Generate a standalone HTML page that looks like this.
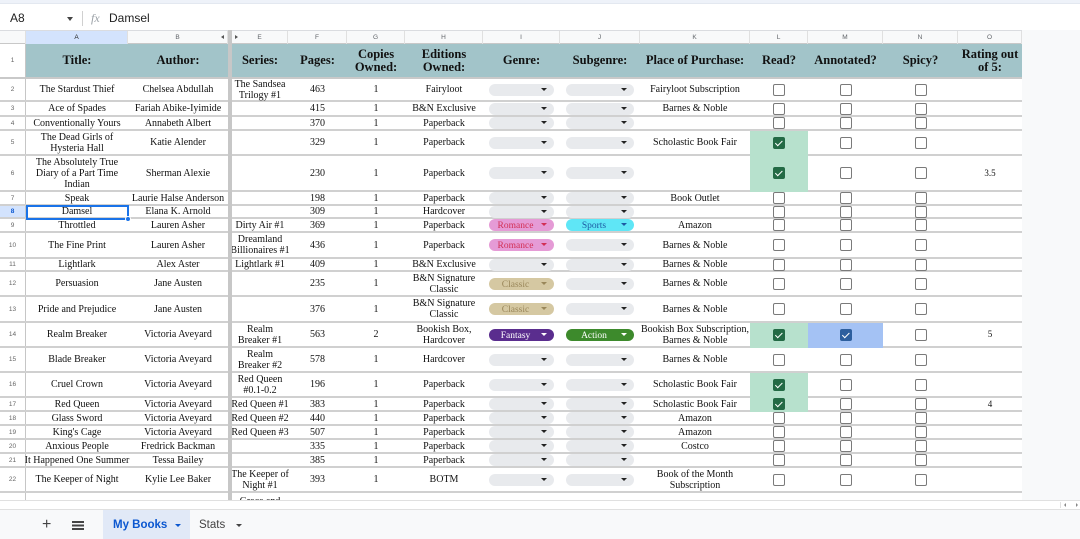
<!DOCTYPE html>
<html><head><meta charset="utf-8">
<style>
*{margin:0;padding:0;box-sizing:border-box}
html,body{width:1080px;height:539px;overflow:hidden;background:#fff;position:relative;font-family:"Liberation Serif",serif;color:#111}
.abs{position:absolute}
.top{left:0;top:0;width:1080px;height:4px;background:#eef2f9;border-bottom:1px solid #e3e8f0}
.fb{font-family:"Liberation Sans",sans-serif;font-size:12px;color:#1f1f1f;position:absolute;top:11px}
.colhdr{position:absolute;top:30px;height:14px;left:0;width:1022px;background:#f8f9fa;border-top:1px solid #dadce0;border-bottom:1px solid #c8c8c8}
.ch{position:absolute;top:0;height:13px;font:6.5px "Liberation Sans",sans-serif;color:#5f6368;display:flex;align-items:center;justify-content:center;border-right:1px solid #e0e0e0}
.r{position:absolute;left:0;width:1022px;border-bottom:2px solid #d0d0d0}
.c{position:absolute;top:0;bottom:0;display:flex;align-items:center;justify-content:center;text-align:center;line-height:11px;font-size:10px;white-space:nowrap}
.n{left:0;width:26px;font:6.5px "Liberation Sans",sans-serif;color:#666;border-right:1px solid #c6c6c6;background:#fff}
.A{left:26px;width:102px}.B{left:128px;width:100px}.E{left:232px;width:56px}.F{left:288px;width:59px}
.G{left:347px;width:58px}.H{left:405px;width:78px}.I{left:483px;width:77px}.J{left:560px;width:80px}
.K{left:640px;width:110px}.L{left:750px;width:58px}.M{left:808px;width:75px}.N{left:883px;width:75px}.O{left:958px;width:64px}
.hd{font-weight:bold;font-size:12.5px;line-height:13px}
.chip{position:absolute;top:50%;margin-top:-6px;height:12px;border-radius:6px;background:#e8eaed;font-size:9.5px;line-height:12px;text-align:center}
.ci{left:489px;width:65px}.cj{left:566px;width:68px}
.chip span{position:absolute;left:0;right:12px;top:1px}
.chip i{position:absolute;right:7px;top:4px;width:0;height:0;border-left:3px solid transparent;border-right:3px solid transparent;border-top:3.5px solid #222}
.rom{background:#e59bd6;color:#d22f55}.rom i{border-top-color:#d22f55}
.spo{background:#5fe6f6;color:#1d5aa3}.spo i{border-top-color:#1d5aa3}
.cla{background:#d5c8a2;color:#9a875a}.cla i{border-top-color:#9a875a}
.fan{background:#5a2d8e;color:#fff}.fan i{border-top-color:#fff}
.act{background:#3d8a2c;color:#fff}.act i{border-top-color:#fff}
.cb{position:absolute;top:50%;margin-top:-6px;width:12px;height:12px;border:1.5px solid #7a7a7a;border-radius:2px;background:#fff}
.cl{left:773px}.cm{left:840px}.cn{left:915px}
.on{background:#236a45;border-color:#236a45}
.onb{background:#2d5f9e;border-color:#2d5f9e}
.on::after,.onb::after{content:"";position:absolute;left:3px;top:1px;width:3px;height:5.5px;border:solid #fff;border-width:0 1.4px 1.4px 0;transform:rotate(45deg)}
.gf{position:absolute;top:0;bottom:-2px;left:750px;width:58px;background:#b7e1cd}
.bf{position:absolute;top:0;bottom:-2px;left:808px;width:75px;background:#a4c2f4}
.sm{font-size:9px}
</style></head><body>
<div class="abs top"></div>
<div class="fb" style="left:10px">A8</div>
<div class="abs" style="left:67px;top:17px;width:0;height:0;border-left:3.5px solid transparent;border-right:3.5px solid transparent;border-top:4px solid #444"></div>
<div class="abs" style="left:82px;top:11px;width:1px;height:15px;background:#d0d0d0"></div>
<div class="fb" style="left:91px;font-family:'Liberation Serif',serif;font-style:italic;color:#9aa0a6;font-size:12px">fx</div>
<div class="fb" style="left:109px">Damsel</div>

<div class="colhdr">
<div class="ch" style="left:0;width:26px"></div>
<div class="ch A" style="background:#d3e3fd;color:#1f1f1f">A</div>
<div class="ch B">B<span style="position:absolute;right:3px;top:4px;width:0;height:0;border-top:2.5px solid transparent;border-bottom:2.5px solid transparent;border-right:3px solid #555"></span></div>
<div class="ch" style="left:228px;width:4px;background:#c4c4c4"></div>
<div class="ch E">E<span style="position:absolute;left:3px;top:4px;width:0;height:0;border-top:2.5px solid transparent;border-bottom:2.5px solid transparent;border-left:3px solid #555"></span></div>
<div class="ch F">F</div><div class="ch G">G</div><div class="ch H">H</div><div class="ch I">I</div><div class="ch J">J</div><div class="ch K">K</div><div class="ch L">L</div><div class="ch M">M</div><div class="ch N">N</div><div class="ch O">O</div>
</div>

<div class="abs" style="left:1022px;top:30px;width:58px;height:470px;background:#f8f9fa"></div>

<div class="abs" style="left:0;top:44px;width:1022px;height:33px;background:#a2c4c9"></div>
<div class="r" style="top:44px;height:35px;border-bottom:2px solid #c9c9c9">
<div class="c n">1</div>
<div class="c A hd">Title:</div><div class="c B hd">Author:</div><div class="c E hd">Series:</div><div class="c F hd">Pages:</div>
<div class="c G hd">Copies<br>Owned:</div><div class="c H hd">Editions<br>Owned:</div><div class="c I hd">Genre:</div><div class="c J hd">Subgenre:</div>
<div class="c K hd">Place of Purchase:</div><div class="c L hd">Read?</div><div class="c M hd">Annotated?</div><div class="c N hd">Spicy?</div><div class="c O hd">Rating out<br>of 5:</div>
</div>

<div class="r" style="top:79px;height:23px"><div class="c n">2</div>
<div class="c A">The Stardust Thief</div><div class="c B">Chelsea Abdullah</div><div class="c E">The Sandsea<br>Trilogy #1</div><div class="c F">463</div><div class="c G">1</div><div class="c H">Fairyloot</div>
<div class="chip ci"><span></span><i></i></div><div class="chip cj"><span></span><i></i></div>
<div class="c K">Fairyloot Subscription</div><div class="cb cl"></div><div class="cb cm"></div><div class="cb cn"></div></div>

<div class="r" style="top:102px;height:15px"><div class="c n">3</div>
<div class="c A">Ace of Spades</div><div class="c B">Fariah Abike-Iyimide</div><div class="c F">415</div><div class="c G">1</div><div class="c H">B&amp;N Exclusive</div>
<div class="chip ci"><span></span><i></i></div><div class="chip cj"><span></span><i></i></div>
<div class="c K">Barnes &amp; Noble</div><div class="cb cl"></div><div class="cb cm"></div><div class="cb cn"></div></div>

<div class="r" style="top:117px;height:14px"><div class="c n">4</div>
<div class="c A">Conventionally Yours</div><div class="c B">Annabeth Albert</div><div class="c F">370</div><div class="c G">1</div><div class="c H">Paperback</div>
<div class="chip ci"><span></span><i></i></div><div class="chip cj"><span></span><i></i></div>
<div class="cb cl"></div><div class="cb cm"></div><div class="cb cn"></div></div>

<div class="r" style="top:131px;height:25px"><div class="c n">5</div><div class="gf"></div>
<div class="c A">The Dead Girls of<br>Hysteria Hall</div><div class="c B">Katie Alender</div><div class="c F">329</div><div class="c G">1</div><div class="c H">Paperback</div>
<div class="chip ci"><span></span><i></i></div><div class="chip cj"><span></span><i></i></div>
<div class="c K">Scholastic Book Fair</div><div class="cb cl on"></div><div class="cb cm"></div><div class="cb cn"></div></div>

<div class="r" style="top:156px;height:36px"><div class="c n">6</div><div class="gf" style="top:-2px"></div>
<div class="c A">The Absolutely True<br>Diary of a Part Time<br>Indian</div><div class="c B">Sherman Alexie</div><div class="c F">230</div><div class="c G">1</div><div class="c H">Paperback</div>
<div class="chip ci"><span></span><i></i></div><div class="chip cj"><span></span><i></i></div>
<div class="cb cl on"></div><div class="cb cm"></div><div class="cb cn"></div><div class="c O sm">3.5</div></div>

<div class="r" style="top:192px;height:14px"><div class="c n">7</div>
<div class="c A">Speak</div><div class="c B">Laurie Halse Anderson</div><div class="c F">198</div><div class="c G">1</div><div class="c H">Paperback</div>
<div class="chip ci"><span></span><i></i></div><div class="chip cj"><span></span><i></i></div>
<div class="c K">Book Outlet</div><div class="cb cl"></div><div class="cb cm"></div><div class="cb cn"></div></div>

<div class="r" style="top:206px;height:13px"><div class="c n" style="background:#d3e3fd;color:#0b57d0;font-weight:bold">8</div>
<div class="c A">Damsel</div><div class="c B">Elana K. Arnold</div><div class="c F">309</div><div class="c G">1</div><div class="c H">Hardcover</div>
<div class="chip ci"><span></span><i></i></div><div class="chip cj"><span></span><i></i></div>
<div class="cb cl"></div><div class="cb cm"></div><div class="cb cn"></div></div>

<div class="r" style="top:219px;height:14px"><div class="c n">9</div>
<div class="c A">Throttled</div><div class="c B">Lauren Asher</div><div class="c E">Dirty Air #1</div><div class="c F">369</div><div class="c G">1</div><div class="c H">Paperback</div>
<div class="chip ci rom"><span>Romance</span><i></i></div><div class="chip cj spo"><span>Sports</span><i></i></div>
<div class="c K">Amazon</div><div class="cb cl"></div><div class="cb cm"></div><div class="cb cn"></div></div>

<div class="r" style="top:233px;height:26px"><div class="c n">10</div>
<div class="c A">The Fine Print</div><div class="c B">Lauren Asher</div><div class="c E">Dreamland<br>Billionaires #1</div><div class="c F">436</div><div class="c G">1</div><div class="c H">Paperback</div>
<div class="chip ci rom"><span>Romance</span><i></i></div><div class="chip cj"><span></span><i></i></div>
<div class="c K">Barnes &amp; Noble</div><div class="cb cl"></div><div class="cb cm"></div><div class="cb cn"></div></div>

<div class="r" style="top:259px;height:13px"><div class="c n">11</div>
<div class="c A">Lightlark</div><div class="c B">Alex Aster</div><div class="c E">Lightlark #1</div><div class="c F">409</div><div class="c G">1</div><div class="c H">B&amp;N Exclusive</div>
<div class="chip ci"><span></span><i></i></div><div class="chip cj"><span></span><i></i></div>
<div class="c K">Barnes &amp; Noble</div><div class="cb cl"></div><div class="cb cm"></div><div class="cb cn"></div></div>

<div class="r" style="top:272px;height:25px"><div class="c n">12</div>
<div class="c A">Persuasion</div><div class="c B">Jane Austen</div><div class="c F">235</div><div class="c G">1</div><div class="c H">B&amp;N Signature<br>Classic</div>
<div class="chip ci cla"><span>Classic</span><i></i></div><div class="chip cj"><span></span><i></i></div>
<div class="c K">Barnes &amp; Noble</div><div class="cb cl"></div><div class="cb cm"></div><div class="cb cn"></div></div>

<div class="r" style="top:297px;height:26px"><div class="c n">13</div>
<div class="c A">Pride and Prejudice</div><div class="c B">Jane Austen</div><div class="c F">376</div><div class="c G">1</div><div class="c H">B&amp;N Signature<br>Classic</div>
<div class="chip ci cla"><span>Classic</span><i></i></div><div class="chip cj"><span></span><i></i></div>
<div class="c K">Barnes &amp; Noble</div><div class="cb cl"></div><div class="cb cm"></div><div class="cb cn"></div></div>

<div class="r" style="top:323px;height:25px"><div class="c n">14</div><div class="gf"></div><div class="bf"></div>
<div class="c A">Realm Breaker</div><div class="c B">Victoria Aveyard</div><div class="c E">Realm<br>Breaker #1</div><div class="c F">563</div><div class="c G">2</div><div class="c H">Bookish Box,<br>Hardcover</div>
<div class="chip ci fan"><span>Fantasy</span><i></i></div><div class="chip cj act"><span>Action</span><i></i></div>
<div class="c K">Bookish Box Subscription,<br>Barnes &amp; Noble</div><div class="cb cl on"></div><div class="cb cm onb"></div><div class="cb cn"></div><div class="c O sm">5</div></div>

<div class="r" style="top:348px;height:25px"><div class="c n">15</div>
<div class="c A">Blade Breaker</div><div class="c B">Victoria Aveyard</div><div class="c E">Realm<br>Breaker #2</div><div class="c F">578</div><div class="c G">1</div><div class="c H">Hardcover</div>
<div class="chip ci"><span></span><i></i></div><div class="chip cj"><span></span><i></i></div>
<div class="c K">Barnes &amp; Noble</div><div class="cb cl"></div><div class="cb cm"></div><div class="cb cn"></div></div>

<div class="r" style="top:373px;height:25px"><div class="c n">16</div><div class="gf"></div>
<div class="c A">Cruel Crown</div><div class="c B">Victoria Aveyard</div><div class="c E">Red Queen<br>#0.1-0.2</div><div class="c F">196</div><div class="c G">1</div><div class="c H">Paperback</div>
<div class="chip ci"><span></span><i></i></div><div class="chip cj"><span></span><i></i></div>
<div class="c K">Scholastic Book Fair</div><div class="cb cl on"></div><div class="cb cm"></div><div class="cb cn"></div></div>

<div class="r" style="top:398px;height:14px"><div class="c n">17</div><div class="gf"></div>
<div class="c A">Red Queen</div><div class="c B">Victoria Aveyard</div><div class="c E">Red Queen #1</div><div class="c F">383</div><div class="c G">1</div><div class="c H">Paperback</div>
<div class="chip ci"><span></span><i></i></div><div class="chip cj"><span></span><i></i></div>
<div class="c K">Scholastic Book Fair</div><div class="cb cl on"></div><div class="cb cm"></div><div class="cb cn"></div><div class="c O sm">4</div></div>

<div class="r" style="top:412px;height:14px"><div class="c n">18</div>
<div class="c A">Glass Sword</div><div class="c B">Victoria Aveyard</div><div class="c E">Red Queen #2</div><div class="c F">440</div><div class="c G">1</div><div class="c H">Paperback</div>
<div class="chip ci"><span></span><i></i></div><div class="chip cj"><span></span><i></i></div>
<div class="c K">Amazon</div><div class="cb cl"></div><div class="cb cm"></div><div class="cb cn"></div></div>

<div class="r" style="top:426px;height:14px"><div class="c n">19</div>
<div class="c A">King's Cage</div><div class="c B">Victoria Aveyard</div><div class="c E">Red Queen #3</div><div class="c F">507</div><div class="c G">1</div><div class="c H">Paperback</div>
<div class="chip ci"><span></span><i></i></div><div class="chip cj"><span></span><i></i></div>
<div class="c K">Amazon</div><div class="cb cl"></div><div class="cb cm"></div><div class="cb cn"></div></div>

<div class="r" style="top:440px;height:14px"><div class="c n">20</div>
<div class="c A">Anxious People</div><div class="c B">Fredrick Backman</div><div class="c F">335</div><div class="c G">1</div><div class="c H">Paperback</div>
<div class="chip ci"><span></span><i></i></div><div class="chip cj"><span></span><i></i></div>
<div class="c K">Costco</div><div class="cb cl"></div><div class="cb cm"></div><div class="cb cn"></div></div>

<div class="r" style="top:454px;height:14px"><div class="c n">21</div>
<div class="c A">It Happened One Summer</div><div class="c B">Tessa Bailey</div><div class="c F">385</div><div class="c G">1</div><div class="c H">Paperback</div>
<div class="chip ci"><span></span><i></i></div><div class="chip cj"><span></span><i></i></div>
<div class="cb cl"></div><div class="cb cm"></div><div class="cb cn"></div></div>

<div class="r" style="top:468px;height:25px"><div class="c n">22</div>
<div class="c A">The Keeper of Night</div><div class="c B">Kylie Lee Baker</div><div class="c E">The Keeper of<br>Night #1</div><div class="c F">393</div><div class="c G">1</div><div class="c H">BOTM</div>
<div class="chip ci"><span></span><i></i></div><div class="chip cj"><span></span><i></i></div>
<div class="c K">Book of the Month<br>Subscription</div><div class="cb cl"></div><div class="cb cm"></div><div class="cb cn"></div></div>

<div class="abs" style="top:493px;left:0;width:1022px;height:7px;overflow:hidden;background:#fff">
<div class="abs" style="left:0;top:0;width:26px;height:7px;border-right:1px solid #c6c6c6"></div>
<div class="abs" style="left:232px;width:56px;top:3px;text-align:center;font-size:10px;line-height:11px">Grace and</div>
</div>

<div class="abs" style="left:26px;top:205px;width:103px;height:15px;border:2px solid #1a73e8"></div>
<div class="abs" style="left:125px;top:216px;width:6px;height:6px;border-radius:50%;background:#1a73e8;border:1px solid #fff"></div>

<div class="abs" style="left:228px;top:30px;width:4px;height:470px;background:#c7c7c7"></div>

<div class="abs" style="left:0;top:500px;width:1080px;height:10px;background:#fff;border-top:1px solid #e0e0e0;border-bottom:1px solid #e0e0e0"></div>
<div class="abs" style="left:1060px;top:502px;width:1px;height:6px;background:#e0e0e0"></div>
<div class="abs" style="left:1064px;top:503px;width:0;height:0;border-top:2px solid transparent;border-bottom:2px solid transparent;border-right:2.5px solid #888"></div>
<div class="abs" style="left:1076px;top:503px;width:0;height:0;border-top:2px solid transparent;border-bottom:2px solid transparent;border-left:2.5px solid #888"></div>

<div class="abs" style="left:0;top:510px;width:1080px;height:29px;background:#f8f9fa"></div>
<div class="abs" style="left:42px;top:516px;font:16px 'Liberation Sans',sans-serif;color:#444">+</div>
<div class="abs" style="left:72px;top:521px;width:12px;height:1.5px;background:#444;box-shadow:0 3.5px 0 #444,0 7px 0 #444"></div>
<div class="abs" style="left:103px;top:510px;width:87px;height:29px;background:#e1e9f7"></div>
<div class="abs" style="left:113px;top:519px;font:bold 11.5px 'Liberation Sans',sans-serif;color:#0b57d0">My Books</div>
<div class="abs" style="left:175px;top:524px;width:0;height:0;border-left:3px solid transparent;border-right:3px solid transparent;border-top:3.5px solid #0b57d0"></div>
<div class="abs" style="left:199px;top:519px;font:11.5px 'Liberation Sans',sans-serif;color:#444">Stats</div>
<div class="abs" style="left:236px;top:524px;width:0;height:0;border-left:3px solid transparent;border-right:3px solid transparent;border-top:3.5px solid #444"></div>
</body></html>
